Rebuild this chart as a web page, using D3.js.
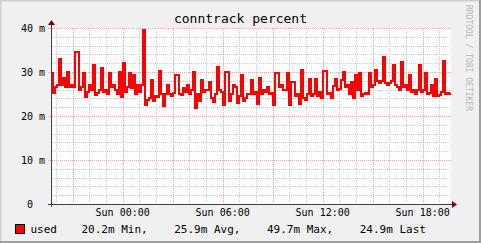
<!DOCTYPE html>
<html><head><meta charset="utf-8">
<script src="https://cdn.jsdelivr.net/npm/d3@7/dist/d3.min.js"></script>
<style>
html,body{margin:0;padding:0;background:#F0F0F0;}
svg{display:block;}
text{font-family:"DejaVu Sans Mono",monospace;white-space:pre;}
</style></head><body>
<script>
// ---- data ----
const title = "conntrack percent";
const seriesName = "used";
const startISO = "2024-01-06T19:42:00Z";   // Saturday
const spanHours = 24;
const yTickValues = [0, 10, 20, 30, 40];
const yTickLabels = ["0  ", "10 m", "20 m", "30 m", "40 m"];
const legendStats = "20.2m Min,    25.9m Avg,    49.7m Max,    24.9m Last";
const watermark = "RRDTOOL / TOBI OETIKER";
// values in milli (m)
const usedValues = [
29.8,25.2,26.5,27,33,27,28.6,26.5,30,26.5,27,26.5,34.5,34.5,26,26.5,29.8,24.3,25.5,27,
26,31.6,24.8,25.2,26,31,25.5,26,25,29.8,26.5,27,26,25,30,24.3,32,25.5,26.5,29.8,
26.4,29.3,25,27,25.5,27,39.5,22.5,23.6,24,28.2,23.5,24.5,24.4,30.2,25,22.3,25,27,25,
24.5,25.2,29.3,29.3,25,24.8,26.4,25.5,27,25,26,30,21.9,25,23.5,28.2,25.5,25.8,26,27.8,
24,23.2,25,31.2,26,25.5,22.5,29.9,29.9,23.3,25,27,26.7,23,24.5,29.3,23.5,24,25,25,
28.2,25,25.5,22.7,28.7,25,26,25.5,26.7,25,25.2,22.5,29.8,29.8,26.5,27,26,26,29.8,22.5,
27.8,27.8,24.5,25,22.7,30.5,24,23.6,25,28.4,24.5,25,28.4,24.5,25.5,24.2,30.2,30.2,25,25.3,
24,26.8,28.4,26,26.2,28.2,30,26.5,27,25,27.8,24,29.3,26,29.8,24.5,25,25.2,25,29.8,
26.5,27,30.5,28,27.5,28,33.3,27.5,27,27.5,28,31.7,27,26.5,26,32.3,26.5,27,26,29.3,
25.5,25.8,25,26,31.6,25.5,25.8,29.8,25,25.2,27,24.5,28.4,24.5,24.8,25.5,32.5,25,25.3,24.9
];

// ---- layout ----
const W = 481, H = 243;
const plot = {left: 51, right: 451, top: 28, bottom: 204};

const svg = d3.select("body").append("svg").attr("width", W).attr("height", H);

// background + shading border
svg.append("rect").attr("width", W).attr("height", H).attr("fill", "#F0F0F0");
svg.append("path").attr("d", `M0,${H} V0 H${W}`).attr("fill", "none").attr("stroke", "#CFCFCF").attr("stroke-width", 3);
svg.append("path").attr("d", `M0,${H} H${W} V0`).attr("fill", "none").attr("stroke", "#9E9E9E").attr("stroke-width", 4);

svg.append("rect").attr("x", plot.left).attr("y", plot.top)
  .attr("width", plot.right - plot.left).attr("height", plot.bottom - plot.top).attr("fill", "#FFFFFF");

const t0 = new Date(startISO);
const t1 = new Date(+t0 + spanHours * 3600e3);
const x = d3.scaleUtc().domain([t0, t1]).range([plot.left, plot.right]);
const y = d3.scaleLinear().domain([0, 40]).range([plot.bottom, plot.top]);

const stepMs = (spanHours * 3600e3) / usedValues.length;
const pts = usedValues.map((v, i) => [new Date(+t0 + i * stepMs), v]);
pts.push([t1, usedValues[usedValues.length - 1]]);

const grid = svg.append("g").attr("shape-rendering", "crispEdges");
// minor horizontal grid every 2m
d3.range(2, 40, 2).filter(v => v % 10 !== 0).forEach(v => {
  grid.append("line").attr("x1", plot.left).attr("x2", plot.right)
    .attr("y1", Math.round(y(v)) + 0.5).attr("y2", Math.round(y(v)) + 0.5)
    .attr("stroke", "#CDCDCD").attr("stroke-dasharray", "1,1");
});
// minor vertical grid every hour
x.ticks(d3.utcHour.every(1)).filter(d => d.getUTCHours() % 3 !== 0).forEach(d => {
  grid.append("line").attr("y1", plot.top).attr("y2", plot.bottom)
    .attr("x1", Math.round(x(d)) + 0.5).attr("x2", Math.round(x(d)) + 0.5)
    .attr("stroke", "#CDCDCD").attr("stroke-dasharray", "1,1");
});
// major horizontal grid
yTickValues.filter(v => v > 0).forEach(v => {
  grid.append("line").attr("x1", plot.left - 3).attr("x2", plot.right)
    .attr("y1", Math.round(y(v)) + 0.5).attr("y2", Math.round(y(v)) + 0.5)
    .attr("stroke", "#F0A8A8").attr("stroke-dasharray", "1,1");
});
// major vertical grid every 3 hours
const majorX = x.ticks(d3.utcHour.every(3));
majorX.forEach(d => {
  grid.append("line").attr("y1", plot.top).attr("y2", plot.bottom + 2)
    .attr("x1", Math.round(x(d)) + 0.5).attr("x2", Math.round(x(d)) + 0.5)
    .attr("stroke", "#F0A8A8").attr("stroke-dasharray", "1,1");
});

// y labels
svg.append("g").selectAll("text").data(yTickValues).join("text")
  .attr("x", plot.left - 6).attr("y", d => y(d) + 3.5)
  .attr("text-anchor", "end").attr("font-size", 10).attr("fill", "#000")
  .text((d, i) => yTickLabels[i]);

// x labels every 6 hours
const fmt = d3.utcFormat("%a %H:%M");
svg.append("g").selectAll("text").data(x.ticks(d3.utcHour.every(6))).join("text")
  .attr("x", d => x(d)).attr("y", plot.bottom + 12)
  .attr("text-anchor", "middle").attr("font-size", 10).attr("fill", "#000")
  .text(d => fmt(d));

// data line
const line = d3.line().x(d => x(d[0])).y(d => y(d[1])).curve(d3.curveStepAfter);
svg.append("path").datum(pts).attr("d", line)
  .attr("fill", "none").attr("stroke", "#FF0000").attr("stroke-width", 2)
  .attr("stroke-linejoin", "miter").attr("shape-rendering", "crispEdges");

// axes
const ax = svg.append("g").attr("shape-rendering", "crispEdges");
ax.append("line").attr("x1", plot.left - 3).attr("x2", plot.right + 4)
  .attr("y1", plot.bottom + 0.5).attr("y2", plot.bottom + 0.5).attr("stroke", "#404040");
ax.append("line").attr("x1", plot.left + 0.5).attr("x2", plot.left + 0.5)
  .attr("y1", plot.bottom + 3).attr("y2", plot.top - 4).attr("stroke", "#404040");
svg.append("path").attr("d", `M${plot.right + 1},${plot.bottom - 3} L${plot.right + 6},${plot.bottom + 0.5} L${plot.right + 1},${plot.bottom + 4} Z`).attr("fill", "#7F0000");
svg.append("path").attr("d", `M${plot.left - 3},${plot.top - 3} L${plot.left + 0.5},${plot.top - 8} L${plot.left + 4},${plot.top - 3} Z`).attr("fill", "#7F0000");

// title
svg.append("text").attr("x", W / 2).attr("y", 23).attr("text-anchor", "middle")
  .attr("font-size", 13).attr("fill", "#000").text(title);

// watermark
svg.append("text").attr("transform", `translate(466,5) rotate(90)`)
  .attr("font-size", 8).attr("fill", "#B8B8B8").text(watermark);

// legend
svg.append("rect").attr("x", 15.5).attr("y", 224.5).attr("width", 9).attr("height", 9)
  .attr("fill", "#FF0000").attr("stroke", "#000").attr("stroke-width", 1);
svg.append("text").attr("x", 30.5).attr("y", 233).attr("font-size", 11).attr("fill", "#000").text(seriesName);
svg.append("text").attr("x", 81.5).attr("y", 233).attr("font-size", 11).attr("fill", "#000").text(legendStats);
</script>
</body></html>
